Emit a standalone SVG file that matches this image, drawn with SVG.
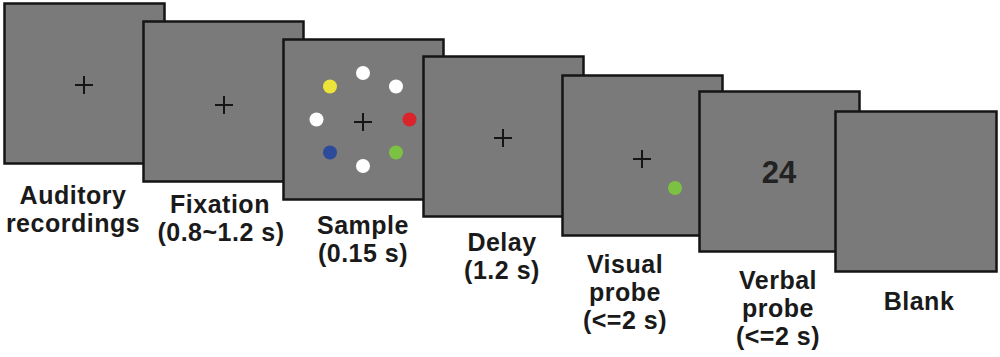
<svg xmlns="http://www.w3.org/2000/svg" width="1000" height="357" viewBox="0 0 1000 357">
<style>
.scr{fill:#7a7a7a;stroke:#151515;stroke-width:2.5}
.fx{stroke:#151515;stroke-width:2;fill:none}
.lb{font-family:"Liberation Sans",Arial,sans-serif;font-weight:bold;font-size:25px;letter-spacing:0.5px;fill:#1a1a1a;text-anchor:middle}
.dot{stroke:none}
</style>
<defs>
<path id="cross" d="M-9,0H9M0,-9V9"/>
</defs>
<rect width="1000" height="357" fill="#ffffff"/>
<g id="n1">
<rect class="scr" x="4.5" y="3.5" width="160" height="160"/>
<use href="#cross" class="fx" x="84" y="85"/>
<text class="lb" x="73" y="204">Auditory</text>
<text class="lb" x="73" y="232">recordings</text>
</g>
<g id="n2">
<rect class="scr" x="143.5" y="21.5" width="160" height="160"/>
<use href="#cross" class="fx" x="224" y="105"/>
<text class="lb" x="220" y="213">Fixation</text>
<text class="lb" x="221" y="241">(0.8~1.2 s)</text>
</g>
<g id="n3">
<rect class="scr" x="283.5" y="39.5" width="160" height="160"/>
<use href="#cross" class="fx" x="363" y="122"/>
<circle class="dot" cx="363" cy="73" r="7" fill="#ffffff"/>
<circle class="dot" cx="396" cy="86.5" r="7" fill="#ffffff"/>
<circle class="dot" cx="330" cy="86.5" r="7" fill="#ece43a"/>
<circle class="dot" cx="316.5" cy="119.5" r="7" fill="#ffffff"/>
<circle class="dot" cx="409.5" cy="119.5" r="7" fill="#d8242a"/>
<circle class="dot" cx="330" cy="152.5" r="7" fill="#2e4a9a"/>
<circle class="dot" cx="396" cy="152.5" r="7" fill="#7cc242"/>
<circle class="dot" cx="363" cy="166" r="7" fill="#ffffff"/>
<text class="lb" x="363" y="234">Sample</text>
<text class="lb" x="363" y="262">(0.15 s)</text>
</g>
<g id="n4">
<rect class="scr" x="423.5" y="56.5" width="160" height="160"/>
<use href="#cross" class="fx" x="503" y="138"/>
<text class="lb" x="502" y="251">Delay</text>
<text class="lb" x="502" y="279">(1.2 s)</text>
</g>
<g id="n5">
<rect class="scr" x="562.5" y="75.5" width="160" height="160"/>
<use href="#cross" class="fx" x="642" y="159"/>
<circle class="dot" cx="675" cy="188" r="7" fill="#7cc242"/>
<text class="lb" x="625" y="273">Visual</text>
<text class="lb" x="625" y="301">probe</text>
<text class="lb" x="625" y="329">(&lt;=2 s)</text>
</g>
<g id="n6">
<rect class="scr" x="699.5" y="91.5" width="160" height="160"/>
<text x="779" y="183" style="font-family:'Liberation Sans',Arial,sans-serif;font-weight:bold;font-size:31px;fill:#222;text-anchor:middle">24</text>
<text class="lb" x="778" y="289">Verbal</text>
<text class="lb" x="778" y="317">probe</text>
<text class="lb" x="778" y="345">(&lt;=2 s)</text>
</g>
<g id="n7">
<rect class="scr" x="835.5" y="111.5" width="161" height="160"/>
<text class="lb" x="919" y="310">Blank</text>
</g>
<g id="connectors"></g>
</svg>
